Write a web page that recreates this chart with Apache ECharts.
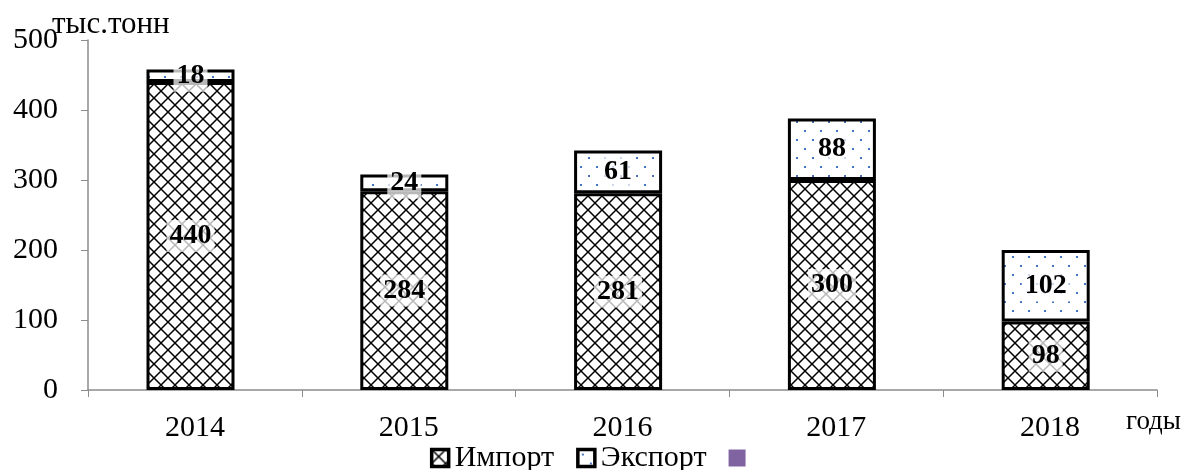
<!DOCTYPE html>
<html>
<head>
<meta charset="utf-8">
<script src="https://cdn.jsdelivr.net/npm/echarts@6/dist/echarts.min.js"></script>
<style>
  html, body { margin: 0; padding: 0; background: #fff; }
  #chart { width: 1189px; height: 470px; }
</style>
</head>
<body>
<div id="chart"></div>
<script>
// данные
var years = ['2014', '2015', '2016', '2017', '2018'];
var importData = [440, 284, 281, 300, 98];
var exportData = [18, 24, 61, 88, 102];

// штриховка для импорта
function crossPattern() {
    var c = document.createElement('canvas');
    c.width = 14; c.height = 14;
    var ctx = c.getContext('2d');
    ctx.fillStyle = '#fff';
    ctx.fillRect(0, 0, 14, 14);
    ctx.strokeStyle = '#000';
    ctx.lineWidth = 1.5;
    ctx.beginPath();
    ctx.moveTo(0, 0); ctx.lineTo(14, 14);
    ctx.moveTo(14, 0); ctx.lineTo(0, 14);
    ctx.stroke();
    return c;
}
// точки для экспорта
function dotPattern() {
    var c = document.createElement('canvas');
    c.width = 16; c.height = 18;
    var ctx = c.getContext('2d');
    ctx.fillStyle = '#fff';
    ctx.fillRect(0, 0, 16, 18);
    ctx.fillStyle = '#4472c4';
    ctx.fillRect(4, 4, 2, 2);
    ctx.fillRect(12, 13, 2, 2);
    return c;
}

var chart = echarts.init(document.getElementById('chart'));

var labelStyle = {
    show: true,
    position: 'inside',
    fontFamily: 'Liberation Serif',
    fontWeight: 'bold',
    fontSize: 28,
    lineHeight: 30,
    color: '#000',
    backgroundColor: 'rgba(255,255,255,0.72)',
    padding: [1, 3]
};

option = {
    animation: false,
    textStyle: { fontFamily: 'Liberation Serif' },
    grid: { left: 88, right: 32, top: 40, bottom: 80 },
    title: {
        text: 'тыс.тонн',
        left: 47,
        top: 4,
        textStyle: { fontFamily: 'Liberation Serif', fontWeight: 'normal', fontSize: 31, color: '#000' }
    },
    graphic: [{
        type: 'text',
        left: 1126,
        top: 408,
        style: { text: 'годы', font: '27px "Liberation Serif"', fill: '#000' }
    }],
    legend: {
        bottom: -8,
        left: 'center',
        itemWidth: 17,
        itemHeight: 17,
        itemGap: 22,
        icon: 'rect',
        textStyle: { fontFamily: 'Liberation Serif', fontSize: 30, color: '#000', padding: [0, 0, 0, 1] },
        data: [
            { name: 'Импорт', itemStyle: { borderColor: '#000', borderWidth: 3.5 } },
            { name: 'Экспорт', itemStyle: { borderColor: '#000', borderWidth: 3.5 } },
            { name: ' ', itemStyle: { borderWidth: 0 } }
        ]
    },
    xAxis: {
        type: 'category',
        data: years,
        axisLine: { lineStyle: { color: '#8c8c8c', width: 1.5 } },
        axisTick: { show: true, length: 7, lineStyle: { color: '#8c8c8c' } },
        axisLabel: { fontSize: 30, color: '#000', margin: 23 }
    },
    yAxis: {
        type: 'value',
        min: 0,
        max: 500,
        interval: 100,
        splitLine: { show: false },
        axisLine: { show: true, lineStyle: { color: '#8c8c8c', width: 1.5 } },
        axisTick: { show: true, length: 7, lineStyle: { color: '#8c8c8c' } },
        axisLabel: { fontSize: 30, color: '#000', margin: 30 }
    },
    series: [
        {
            name: 'Импорт',
            type: 'bar',
            stack: 'total',
            barWidth: 88,
            data: importData,
            itemStyle: {
                color: { image: crossPattern(), repeat: 'repeat' },
                borderColor: '#000',
                borderWidth: 3
            },
            label: labelStyle
        },
        {
            name: 'Экспорт',
            type: 'bar',
            stack: 'total',
            barWidth: 88,
            data: exportData,
            itemStyle: {
                color: { image: dotPattern(), repeat: 'repeat' },
                borderColor: '#000',
                borderWidth: 3
            },
            label: labelStyle
        },
        {
            name: ' ',
            type: 'bar',
            data: [],
            itemStyle: { color: '#8064a2' }
        }
    ]
};

chart.setOption(option);
</script>
</body>
</html>
